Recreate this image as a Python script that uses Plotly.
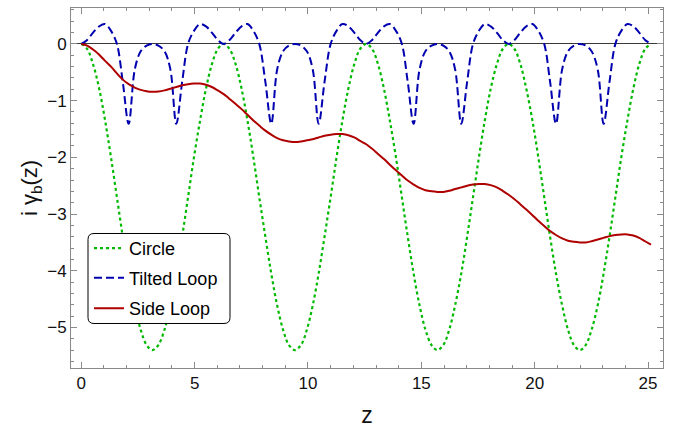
import plotly.graph_objects as go

# sample positions along z (step ~ pi/12)
z = [0, 0.26, 0.52, 0.79, 1.05, 1.31, 1.57, 1.83, 2.09, 2.36, 2.62, 2.88, 3.14, 3.40, 3.67, 3.93,
     4.19, 4.45, 4.71, 4.97, 5.24, 5.50, 5.76, 6.02, 6.28, 6.54, 6.81, 7.07, 7.33, 7.59, 7.85, 8.12,
     8.38, 8.64, 8.90, 9.16, 9.42, 9.69, 9.95, 10.21, 10.47, 10.73, 11.00, 11.26, 11.52, 11.78, 12.04,
     12.30, 12.57, 12.83, 13.09, 13.35, 13.61, 13.88, 14.14, 14.40, 14.66, 14.92, 15.18, 15.45, 15.71,
     15.97, 16.23, 16.49, 16.76, 17.02, 17.28, 17.54, 17.80, 18.06, 18.33, 18.59, 18.85, 19.11, 19.37,
     19.63, 19.90, 20.16, 20.42, 20.68, 20.94, 21.21, 21.47, 21.73, 21.99, 22.25, 22.51, 22.78, 23.04,
     23.30, 23.56, 23.82, 24.09, 24.35, 24.61, 24.87, 25.13]

circle = [0, -0.09, -0.36, -0.79, -1.35, -2.00, -2.70, -3.40, -4.05, -4.61, -5.04, -5.31, -5.40,
          -5.31, -5.04, -4.61, -4.05, -3.40, -2.70, -2.00, -1.35, -0.79, -0.36, -0.09,
          0, -0.09, -0.36, -0.79, -1.35, -2.00, -2.70, -3.40, -4.05, -4.61, -5.04, -5.31, -5.40,
          -5.31, -5.04, -4.61, -4.05, -3.40, -2.70, -2.00, -1.35, -0.79, -0.36, -0.09,
          0, -0.09, -0.36, -0.79, -1.35, -2.00, -2.70, -3.40, -4.05, -4.61, -5.04, -5.31, -5.40,
          -5.31, -5.04, -4.61, -4.05, -3.40, -2.70, -2.00, -1.35, -0.79, -0.36, -0.09,
          0, -0.09, -0.36, -0.79, -1.35, -2.00, -2.70, -3.40, -4.05, -4.61, -5.04, -5.31, -5.40,
          -5.31, -5.04, -4.61, -4.05, -3.40, -2.70, -2.00, -1.35, -0.79, -0.36, -0.09, 0]

tilted = [0, 0.07, 0.20, 0.31, 0.35, 0.23, 0.00, -0.67, -1.41, -0.45, -0.13, -0.03, 0,
          -0.03, -0.13, -0.45, -1.41, -0.67, 0.00, 0.23, 0.35, 0.31, 0.20, 0.07,
          0, 0.07, 0.20, 0.31, 0.35, 0.23, 0.00, -0.67, -1.41, -0.45, -0.13, -0.03, 0,
          -0.03, -0.13, -0.45, -1.41, -0.67, 0.00, 0.23, 0.35, 0.31, 0.20, 0.07,
          0, 0.07, 0.20, 0.31, 0.35, 0.23, 0.00, -0.67, -1.41, -0.45, -0.13, -0.03, 0,
          -0.03, -0.13, -0.45, -1.41, -0.67, 0.00, 0.23, 0.35, 0.31, 0.20, 0.07,
          0, 0.07, 0.20, 0.31, 0.35, 0.23, 0.00, -0.67, -1.41, -0.45, -0.13, -0.03, 0,
          -0.03, -0.13, -0.45, -1.41, -0.67, 0.00, 0.23, 0.35, 0.31, 0.20, 0.07, 0]

side = [0, -0.03, -0.10, -0.19, -0.30, -0.40, -0.52, -0.63, -0.71, -0.77, -0.81, -0.835, -0.845,
        -0.84, -0.82, -0.79, -0.76, -0.73, -0.71, -0.70, -0.70, -0.72, -0.76, -0.82, -0.885,
        -0.97, -1.06, -1.15, -1.25, -1.35, -1.44, -1.53, -1.60, -1.66, -1.70, -1.72, -1.73,
        -1.72, -1.70, -1.68, -1.65, -1.62, -1.60, -1.59, -1.59, -1.61, -1.65, -1.71, -1.77,
        -1.85, -1.94, -2.03, -2.13, -2.23, -2.32, -2.41, -2.48, -2.54, -2.58, -2.60, -2.61,
        -2.61, -2.59, -2.56, -2.53, -2.50, -2.48, -2.47, -2.47, -2.49, -2.53, -2.59, -2.66,
        -2.74, -2.83, -2.92, -3.02, -3.12, -3.21, -3.30, -3.37, -3.43, -3.47, -3.49, -3.50,
        -3.50, -3.48, -3.45, -3.42, -3.39, -3.37, -3.36, -3.36, -3.38, -3.42, -3.48, -3.54]

names = ["Circle", "Tilted Loop", "Side Loop"]

FONT = "Liberation Sans, Arial, sans-serif"
GREEN = "rgb(0,185,0)"
BLUE = "rgb(0,0,175)"
RED = "rgb(175,0,0)"
FRAME = "#8a8a8a"

fig = go.Figure()
fig.add_trace(go.Scatter(x=z, y=circle, mode="lines", name=names[0], legend="legend",
                         line=dict(color=GREEN, width=2.2, dash="3px,3px", shape="spline")))
fig.add_trace(go.Scatter(x=z, y=tilted, mode="lines", name=names[1], legend="legend2",
                         line=dict(color=BLUE, width=2, dash="8px,4px", shape="spline")))
fig.add_trace(go.Scatter(x=z, y=side, mode="lines", name=names[2], legend="legend3",
                         line=dict(color=RED, width=2, shape="spline")))

W, H = 677, 431
L, R, T, B = 71, 14, 7, 60
pw, ph = W - L - R, H - T - B

def px(xp):
    return (xp - L) / pw

def py(yp):
    return (H - B - yp) / ph

x0, x1 = px(88), px(230)
y0, y1 = py(326), py(235)
rx, ry = 6 / pw, 6 / ph
path = (f"M{x0+rx},{y1} L{x1-rx},{y1} Q{x1},{y1} {x1},{y1-ry} L{x1},{y0+ry} "
        f"Q{x1},{y0} {x1-rx},{y0} L{x0+rx},{y0} Q{x0},{y0} {x0},{y0+ry} "
        f"L{x0},{y1-ry} Q{x0},{y1} {x0+rx},{y1} Z")

leg_common = dict(xanchor="left", yanchor="middle", bgcolor="rgba(0,0,0,0)", borderwidth=0,
                  font=dict(family=FONT, size=18, color="black"))

fig.update_layout(
    width=W, height=H,
    margin=dict(l=L, r=R, t=T, b=B),
    paper_bgcolor="white", plot_bgcolor="white",
    showlegend=True,
    legend=dict(x=px(89), y=py(250), **leg_common),
    legend2=dict(x=px(89), y=py(280), **leg_common),
    legend3=dict(x=px(89), y=py(311), **leg_common),
    shapes=[dict(type="path", path=path, xref="paper", yref="paper",
                 line=dict(color="black", width=1), fillcolor="white", layer="above")],
    xaxis=dict(range=[-0.454, 25.66], showline=True, linecolor=FRAME, linewidth=1, mirror="ticks",
               ticks="inside", ticklen=6, tickcolor=FRAME, tickwidth=1, tick0=0, dtick=5,
               minor=dict(ticks="inside", ticklen=3, dtick=1, tickcolor=FRAME),
               showgrid=False, zeroline=False,
               tickfont=dict(family=FONT, size=17, color="#111"),
               title=dict(text="z", font=dict(family=FONT, size=23, color="#111"), standoff=14)),
    yaxis=dict(range=[-5.715, 0.633], showline=True, linecolor=FRAME, linewidth=1, mirror="ticks",
               ticks="inside", ticklen=6, tickcolor=FRAME, tickwidth=1, tick0=0, dtick=1,
               minor=dict(ticks="inside", ticklen=3, dtick=0.2, tickcolor=FRAME),
               showgrid=False, zeroline=True, zerolinecolor="#3a3a3a", zerolinewidth=1.3,
               tickfont=dict(family=FONT, size=17, color="#111"),
               title=dict(text="i γ<sub>b</sub>(z)", font=dict(family=FONT, size=22, color="#111"),
                          standoff=3)),
)

fig.write_html("out.html")
